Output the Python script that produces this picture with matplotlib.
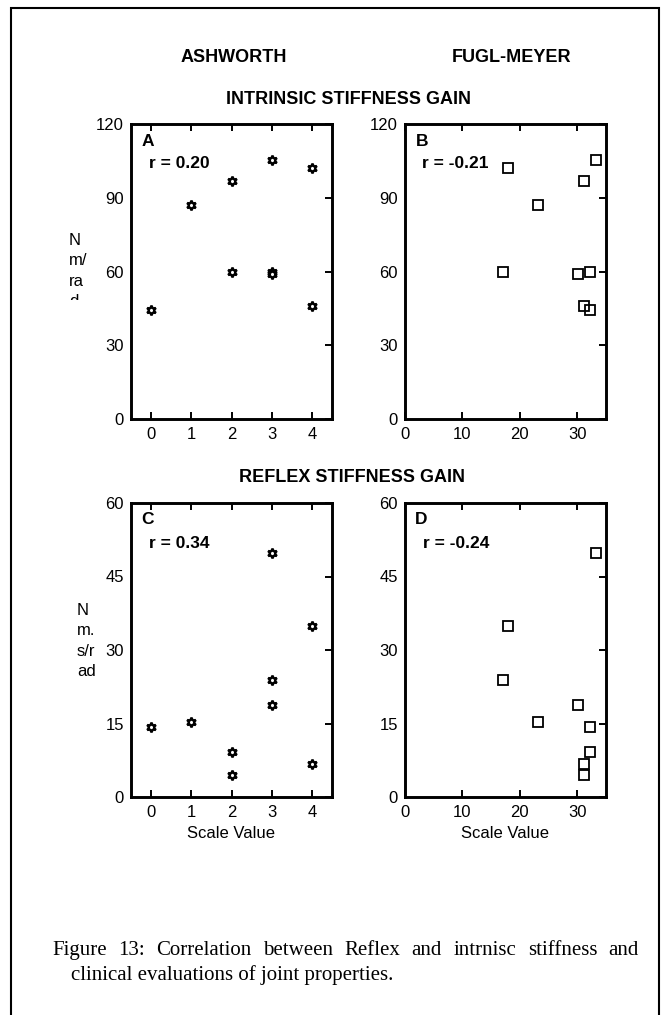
import matplotlib.pyplot as plt
from matplotlib.patches import Rectangle
from matplotlib.transforms import Bbox

# Ashworth score (0-4) and Fugl-Meyer score per subject
ashworth = [0, 1, 2, 2, 3, 3, 3, 4, 4]
fugl_meyer = [32.3, 23.2, 31.2, 32.3, 33.3, 17.0, 30.2, 18.0, 31.2]

# Intrinsic stiffness gain (Nm/rad)
intrinsic = [44.5, 87.0, 96.8, 59.6, 105.5, 59.9, 59.0, 102.0, 46.0]

# Reflex stiffness gain (Nm.s/rad), paired the same way
ashworth_r = [0, 1, 2, 2, 3, 3, 3, 4, 4]
fugl_meyer_r = [32.3, 23.2, 32.3, 31.2, 33.2, 17.0, 30.2, 18.0, 31.2]
reflex = [14.3, 15.4, 9.2, 4.5, 49.7, 23.9, 18.8, 34.9, 6.8]

r_values = ['r = 0.20', 'r = -0.21', 'r = 0.34', 'r = -0.24']

caption1 = 'Figure 13: Correlation between Reflex and intrnisc stiffness and'
caption2 = 'clinical evaluations of joint properties.'

W, H = 664, 1015
FS = 12
plt.rcParams['font.family'] = ['Liberation Sans', 'DejaVu Sans']

fig = plt.figure(figsize=(W / 100, H / 100), dpi=100)


def px(x, y):
    return x / W, 1 - y / H


def make_axes(left, top, right, bottom):
    ax = fig.add_axes([left / W, 1 - bottom / H, (right - left) / W, (bottom - top) / H])
    for s in ax.spines.values():
        s.set_linewidth(2.1)
    ax.tick_params(axis='both', direction='in', length=5, width=1.4, labelsize=FS)
    ax.tick_params(axis='x', top=True, bottom=True, pad=6)
    ax.tick_params(axis='y', left=False, right=True, labelleft=True, pad=5)
    return ax


star = dict(marker=(6, 1, 0), ms=7, mfc='white', mec='black', mew=1.7, ls='none')
square = dict(marker='s', ms=7, mfc='none', mec='black', mew=1.3, ls='none')

axA = make_axes(131, 124, 332, 419)
axA.plot(ashworth, intrinsic, **star)
axB = make_axes(405, 124, 606, 419)
axB.plot(fugl_meyer, intrinsic, **square)
axC = make_axes(131, 503, 332, 797)
axC.plot(ashworth_r, reflex, **star)
axD = make_axes(405, 503, 606, 797)
axD.plot(fugl_meyer_r, reflex, **square)

for ax in (axA, axC):
    ax.set_xlim(-0.5, 4.5)
    ax.set_xticks([0, 1, 2, 3, 4])
for ax in (axB, axD):
    ax.set_xlim(0, 35)
    ax.set_xticks([0, 10, 20, 30])
for ax in (axA, axB):
    ax.set_ylim(0, 120)
    ax.set_yticks([0, 30, 60, 90, 120])
for ax in (axC, axD):
    ax.set_ylim(0, 60)
    ax.set_yticks([0, 15, 30, 45, 60])

# panel letters and correlation coefficients
panels = [('A', 142, 142, 149, 163), ('B', 416, 142, 422, 163),
          ('C', 141, 520, 149, 543), ('D', 415, 520, 423, 543)]
for (letter, lx, ly, rx, ry), rv in zip(panels, r_values):
    fig.text(*px(lx, ly), letter, fontsize=12.5, fontweight='bold', va='center')
    fig.text(*px(rx, ry), rv, fontsize=12.5, fontweight='bold', va='center')

head = dict(fontsize=13, fontweight='bold', ha='center', va='center')
fig.text(*px(234, 58), 'ASHWORTH', **head)
fig.text(*px(512, 58), 'FUGL-MEYER', **head)
fig.text(*px(348, 99), 'INTRINSIC STIFFNESS GAIN', **head)
fig.text(*px(352, 478), 'REFLEX STIFFNESS GAIN', **head)

fig.text(*px(231, 834), 'Scale Value', fontsize=FS, ha='center', va='center')
fig.text(*px(505, 834), 'Scale Value', fontsize=FS, ha='center', va='center')

# unit labels, the intrinsic one is cut off in the text box
lab = fig.text(*px(69, 233), 'N\nm/\nra\nd', fontsize=FS, ha='left', va='top', linespacing=1.45)
lab.set_clip_box(Bbox.from_extents(0, H - 300, W, H))
lab.set_clip_on(True)
fig.text(*px(77, 603), 'N\nm.\ns/r\nad', fontsize=FS, ha='left', va='top', linespacing=1.45)

# caption, first line justified between the margins
cap = dict(fontsize=15, family=['Liberation Serif', 'DejaVu Serif'], va='baseline')
words = caption1.split()
x_left, x_right = 52, 639
renderer = fig.canvas.get_renderer()
texts = [fig.text(0, 0, w, **cap) for w in words]
widths = [t.get_window_extent(renderer).width for t in texts]
gap = (x_right - x_left - sum(widths)) / (len(words) - 1)
x = x_left
for t, w in zip(texts, widths):
    t.set_position(px(x, 955))
    x += w + gap
fig.text(*px(71, 980), caption2, **cap)

fig.add_artist(Rectangle(px(11, 1030), 648 / W, 1022 / H, transform=fig.transFigure,
                         fill=False, lw=1.5, ec='black'))

fig.savefig('out.png', dpi=100)
